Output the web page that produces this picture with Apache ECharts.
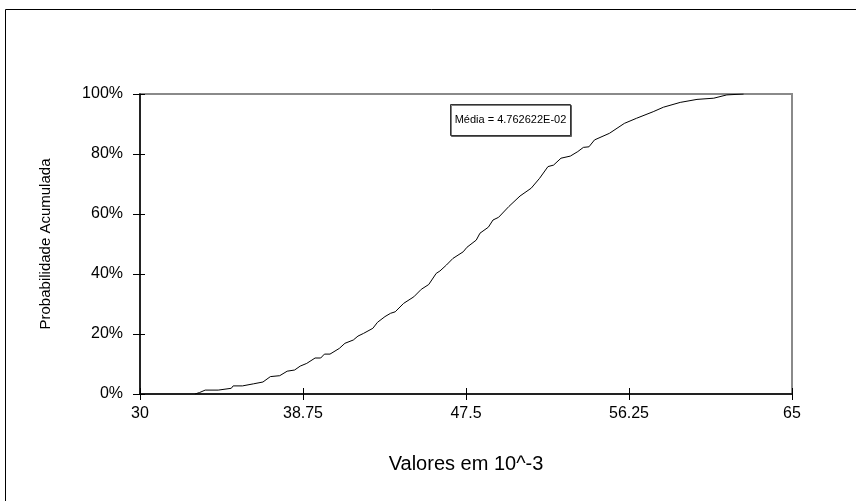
<!DOCTYPE html>
<html>
<head>
<meta charset="utf-8">
<script src="https://cdn.jsdelivr.net/npm/echarts@6/dist/echarts.min.js"></script>
<style>
html,body{margin:0;padding:0;background:#fff;}
#chart{width:856px;height:501px;}
</style>
</head>
<body>
<div id="chart"></div>
<script>
// Valores (10^-3) and cumulative probability (%)
const values = [32.95,33.2,33.5,34.2,34.3,34.9,35.0,35.5,35.6,36.1,36.2,36.6,37.0,37.1,37.5,37.9,38.0,38.3,38.6,38.95,39.4,39.7,39.9,40.2,40.7,41.0,41.45,41.7,42.0,42.5,42.75,43.15,43.45,43.7,44.15,44.7,45.1,45.5,45.9,46.1,46.45,46.8,47.35,47.55,48.05,48.25,48.7,48.95,49.25,49.8,50.4,51.0,51.45,51.9,52.2,52.6,53.1,53.5,53.8,54.1,54.4,55.2,56.0,56.65,57.55,58.1,59.0,59.9,60.8,61.5,62.4];
const probs  = [0,0.5,1.3,1.3,1.9,1.9,2.7,2.7,3.3,3.4,4.0,4.0,5.8,6.1,6.1,7.6,8.0,8.0,9.3,10.2,12.0,12.0,13.3,13.3,15.2,16.9,18.0,19.3,20.2,21.9,23.9,25.8,26.9,27.4,30.2,32.4,34.9,36.5,40.2,41.0,43.0,45.2,47.4,48.9,51.3,53.6,55.6,58.0,58.9,62.5,66.0,68.6,71.9,75.8,76.3,78.6,79.3,80.8,82.2,82.4,84.7,86.9,90.2,91.9,94.1,95.6,97.2,98.2,98.6,99.7,100];
const xTicks = [30, 38.75, 47.5, 56.25, 65];
const yTicks = [0, 20, 40, 60, 80, 100];
const meanLabel = 'Média = 4.762622E-02';
const xName = 'Valores em 10^-3';
const yName = 'Probabilidade Acumulada';

const FONT = '"Liberation Sans", Arial, sans-serif';
const chart = echarts.init(document.getElementById('chart'), null, {renderer:'canvas'});
const data = values.map((v,i)=>[v, probs[i]]);

chart.setOption({
  backgroundColor:'#fff',
  animation:false,
  grid:{left:140, top:94, width:652, height:300, show:true, borderColor:'#8a8a8a', borderWidth:2, backgroundColor:'transparent'},
  xAxis:[{
    type:'value', min:30, max:65,
    name:xName, nameLocation:'middle', nameGap:60,
    nameTextStyle:{fontFamily:FONT, fontSize:20, color:'#000'},
    axisLine:{show:true, onZero:false, lineStyle:{color:'#000', width:1.5}},
    axisTick:{show:true, inside:false, length:6, customValues:xTicks, lineStyle:{color:'#000', width:1}},
    axisLabel:{show:true, customValues:xTicks, margin:12, fontFamily:FONT, fontSize:16, color:'#000',
      formatter:v=>String(v)},
    splitLine:{show:false}
  },{
    type:'value', min:30, max:65, position:'bottom',
    axisLine:{show:false},
    axisTick:{show:true, inside:true, length:6, customValues:xTicks, lineStyle:{color:'#000', width:1}},
    axisLabel:{show:false}, splitLine:{show:false}
  }],
  yAxis:[{
    type:'value', min:0, max:100, interval:20,
    name:yName, nameLocation:'middle', nameGap:87,
    nameTextStyle:{fontFamily:FONT, fontSize:15, color:'#000'},
    axisLine:{show:true, onZero:false, lineStyle:{color:'#000', width:1.5}},
    axisTick:{show:true, inside:false, length:7, lineStyle:{color:'#000', width:1}},
    axisLabel:{show:true, margin:17, fontFamily:FONT, fontSize:16, color:'#000', formatter:'{value}%'},
    splitLine:{show:false}
  },{
    type:'value', min:0, max:100, interval:20, position:'left',
    axisLine:{show:false},
    axisTick:{show:true, inside:true, length:5, lineStyle:{color:'#000', width:1}},
    axisLabel:{show:false}, splitLine:{show:false}
  }],
  series:[{
    type:'line', data:data, xAxisIndex:0, yAxisIndex:0,
    showSymbol:false, symbol:'none', smooth:false,
    lineStyle:{color:'#000', width:1},
    z:3
  }],
  graphic:[
    {type:'rect', shape:{x:5.5, y:9.5, width:1200, height:1200}, style:{fill:'none', stroke:'#000', lineWidth:1}, silent:true, z:0},
    {type:'rect', shape:{x:450.5, y:104.5, width:120, height:31}, style:{fill:'#fff', stroke:'#333', lineWidth:1, shadowColor:'rgba(0,0,0,0.5)', shadowOffsetX:1, shadowOffsetY:1}, z:10},
    {type:'text', x:510.5, y:120, style:{text:meanLabel, fontFamily:FONT, fontSize:11, fill:'#000', align:'center', verticalAlign:'middle'}, z:11}
  ]
});
</script>
</body>
</html>
